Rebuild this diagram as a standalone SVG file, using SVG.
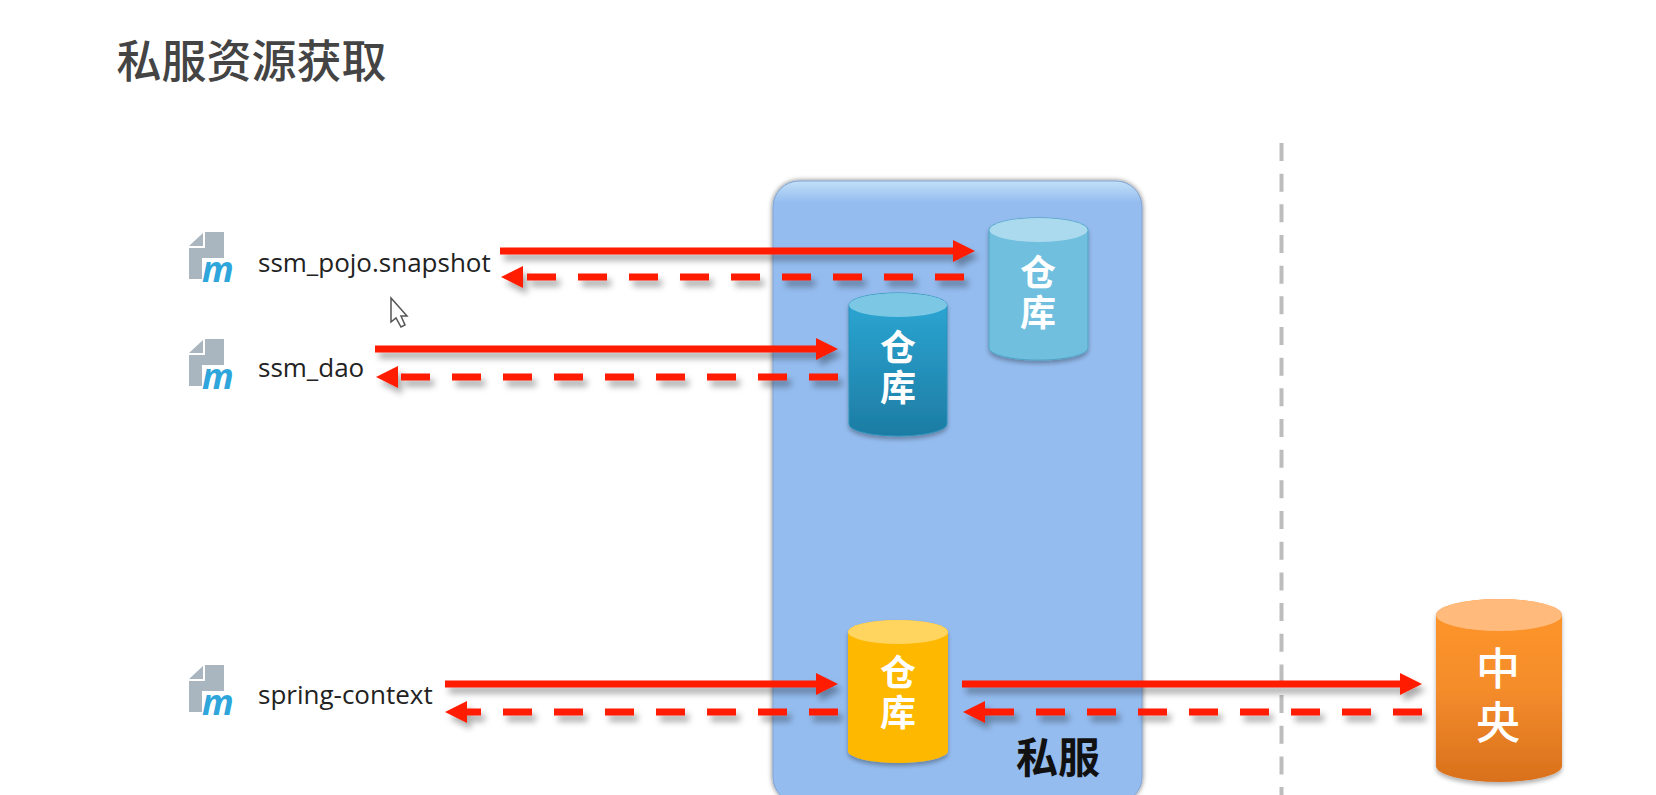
<svg xmlns="http://www.w3.org/2000/svg" width="1656" height="795" viewBox="0 0 1656 795">
<style>
.cjk{font-family:"Noto Sans CJK SC","Noto Sans",sans-serif}
.cyl{fill:#fff;font-weight:700;font-size:36px;writing-mode:vertical-rl;letter-spacing:4px}
.lbl{font-family:"Open Sans","Noto Sans",sans-serif;font-size:26px;fill:#222}
.solid{stroke:#ff1a00;stroke-width:7;fill:none;marker-end:url(#h)}
.dash{stroke:#ff1a00;stroke-width:7;fill:none;stroke-dasharray:29 22;marker-end:url(#h)}
.doc{fill:#a9b6c0}
.m{font-family:"Open Sans","Liberation Sans",sans-serif;font-weight:700;font-style:italic;font-size:35px;fill:#2ea6dc}
</style>
<defs>
<marker id="h" markerUnits="userSpaceOnUse" markerWidth="24" markerHeight="24" refX="0" refY="12" orient="auto"><path d="M0 1L22 12L0 23Z" fill="#ff1a00"/></marker>
<filter id="s" x="-10%" y="-20%" width="120%" height="140%"><feDropShadow dx="4" dy="6" stdDeviation="3" flood-color="#000" flood-opacity=".33"/></filter>
<filter id="cs" x="-10%" y="-10%" width="120%" height="120%"><feDropShadow dx="0" dy="3" stdDeviation="2" flood-color="#000" flood-opacity=".3"/></filter>
<filter id="ps" x="-3%" y="-3%" width="106%" height="106%"><feDropShadow dx="0" dy="0" stdDeviation="2.500" flood-color="#000" flood-opacity=".55"/></filter>
<linearGradient id="pt" x1="0" y1="0" x2="0" y2="1"><stop offset="0" stop-color="#c2e0f7"/><stop offset=".035" stop-color="#94bcef"/><stop offset="1" stop-color="#94bcef"/></linearGradient>
<linearGradient id="g2" x1="0" y1="0" x2="0" y2="1"><stop offset="0" stop-color="#2ca8d6"/><stop offset="1" stop-color="#1d7ca3"/></linearGradient>
<linearGradient id="g4" x1="0" y1="0" x2="0" y2="1"><stop offset="0" stop-color="#ff962c"/><stop offset=".5" stop-color="#f48c2c"/><stop offset="1" stop-color="#d9701c"/></linearGradient>
</defs>
<rect width="1656" height="795" fill="#fff"/>
<g id="title"><text class="cjk" x="116.500" y="78" font-size="45" font-weight="500" fill="#444">私服资源获取</text></g>
<g id="boundary"><line x1="1281.500" y1="143" x2="1281.500" y2="795" stroke="#bdbdbd" stroke-width="4" stroke-dasharray="18 12.670"/></g>
<g id="private-server">
<rect x="773" y="181" width="369" height="622" rx="26" fill="url(#pt)" stroke="#7fa3d2" filter="url(#ps)"/>
<text class="cjk" x="1058" y="773" font-size="42" font-weight="700" fill="#111" text-anchor="middle">私服</text>
</g>
<g id="repo-snapshot">
<path d="M989 230A49 12 0 0 1 1088 230V348A49 12 0 0 1 989 348Z" fill="#70bfdf" stroke="#4fa3c6" filter="url(#cs)"/>
<ellipse cx="1038.500" cy="230" rx="49" ry="12" fill="#abdaee"/>
<text class="cjk cyl" x="1038" y="254">仓库</text>
</g>
<g id="repo-release">
<path d="M849 305A49 12 0 0 1 947 305V424A49 12 0 0 1 849 424Z" fill="url(#g2)" stroke="#2a90b8" filter="url(#cs)"/>
<ellipse cx="898" cy="305" rx="49" ry="12" fill="#7cc8e4"/>
<text class="cjk cyl" x="898" y="329">仓库</text>
</g>
<g id="repo-third">
<path d="M848 632A50 12 0 0 1 948 632V751A50 12 0 0 1 848 751Z" fill="#ffb800" filter="url(#cs)"/>
<ellipse cx="898" cy="632" rx="50" ry="12" fill="#ffd45f"/>
<text class="cjk cyl" x="898" y="654">仓库</text>
</g>
<g id="repo-central">
<path d="M1436 615A63 16 0 0 1 1562 615V766A63 16 0 0 1 1436 766Z" fill="url(#g4)" filter="url(#cs)"/>
<ellipse cx="1499" cy="615" rx="63" ry="16" fill="#ffba7c"/>
<text class="cjk" x="1498" y="646" font-size="44" font-weight="500" fill="#fff" style="writing-mode:vertical-rl;letter-spacing:10px">中央</text>
</g>
<g id="artifact-pojo">
<path class="doc" d="M205 232H224V258H202V279H189V248H205Z M189 246L203 233V246Z"/>
<text class="m" x="202" y="282">m</text>
<text class="lbl" x="258" y="272">ssm_pojo.snapshot</text>
</g>
<g id="artifact-dao">
<path class="doc" d="M205 339H224V365H202V386H189V355H205Z M189 353L203 340V353Z"/>
<text class="m" x="202" y="389">m</text>
<text class="lbl" x="258" y="377">ssm_dao</text>
</g>
<g id="artifact-context">
<path class="doc" d="M205 665H224V691H202V712H189V681H205Z M189 679L203 666V679Z"/>
<text class="m" x="202" y="715">m</text>
<text class="lbl" x="258" y="704">spring-context</text>
</g>
<g id="connectors" filter="url(#s)">
<line class="solid" x1="500" y1="251" x2="953" y2="251"/>
<line class="dash" x1="964" y1="277" x2="523" y2="277"/>
<line class="solid" x1="375" y1="349" x2="816" y2="349"/>
<line class="dash" x1="838" y1="377" x2="398" y2="377"/>
<line class="solid" x1="445" y1="684" x2="816" y2="684"/>
<line class="dash" x1="838" y1="712" x2="467" y2="712"/>
<line class="solid" x1="962" y1="684" x2="1400" y2="684"/>
<line class="dash" x1="1422" y1="712" x2="985" y2="712"/>
</g>
<g id="cursor"><path d="M391 298V322L396 318L401 327L405 325L401 316H407Z" fill="#fff" stroke="#555" stroke-width="1.500"/></g>
</svg>
